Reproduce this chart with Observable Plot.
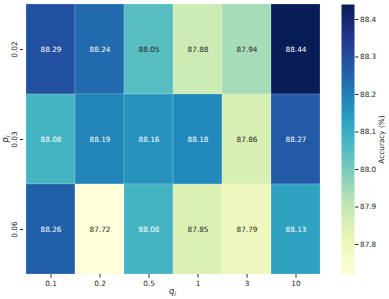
<!DOCTYPE html>
<html><head><meta charset="utf-8">
<script src="https://cdn.jsdelivr.net/npm/d3@7"></script>
<script src="https://cdn.jsdelivr.net/npm/@observablehq/plot@0.6"></script>
<style>
body{margin:0;background:#fff}
#c{position:relative;width:389px;height:299px;font-family:"DejaVu Sans"}
#c svg{position:absolute;top:0;overflow:visible}
</style>
</head><body><div id="c"></div>
<script>
const qLabels = ["0.1","0.2","0.5","1","3","10"];
const pLabels = ["0.02","0.03","0.06"];
const acc002 = [88.29,88.24,88.05,87.88,87.94,88.44];
const acc003 = [88.08,88.19,88.16,88.18,87.86,88.27];
const acc006 = [88.26,87.72,88.08,87.85,87.79,88.13];
const colorTicks = [87.8,87.9,88.0,88.1,88.2,88.3,88.4];

const rows = [acc002, acc003, acc006];
const cells = pLabels.flatMap((p,i)=> qLabels.map((q,j)=>({p,q,v:rows[i][j]})));
const domain = [d3.min(cells,d=>d.v), d3.max(cells,d=>d.v)];
const colorOpt = {type:"linear", scheme:"YlGnBu", domain};
const cscale = d3.scaleSequential(d3.interpolateYlGnBu).domain(domain);
function lum(c){const rgb=d3.rgb(c);const f=v=>{v/=255;return v<=0.03928?v/12.92:Math.pow((v+0.055)/1.055,2.4)};return 0.2126*f(rgb.r)+0.7152*f(rgb.g)+0.0722*f(rgb.b);}
const isLight = d => lum(cscale(d.v)) > 0.408;
const fs = 7.3;
const style = {fontFamily:"DejaVu Sans", fontSize:fs+"px", color:"#262626", background:"transparent", overflow:"visible"};

const main = Plot.plot({
  width:389, height:299, marginLeft:23, marginRight:67, marginTop:4, marginBottom:25,
  style,
  x:{domain:qLabels, padding:0, label:null},
  y:{domain:pLabels, padding:0, label:null},
  color: colorOpt,
  marks:[
    Plot.cell(cells,{x:"q",y:"p",fill:"v",inset:0,stroke:"#ffffff",strokeOpacity:0.3,strokeWidth:0.6}),
    Plot.text(cells.filter(isLight),{x:"q",y:"p",text:d=>d.v.toFixed(2),fill:"#262626",fontSize:fs}),
    Plot.text(cells.filter(d=>!isLight(d)),{x:"q",y:"p",text:d=>d.v.toFixed(2),fill:"#ffffff",fontSize:fs}),
    Plot.axisX({tickSize:3.5, tickPadding:2.5, label:null, stroke:"#262626"}),
    Plot.axisY({tickSize:3, tickPadding:4, tickRotate:-90, label:null, stroke:"#262626"})
  ]
});
main.style.left = "0px";
document.getElementById("c").appendChild(main);

const cb = Plot.plot({
  width:48, height:299, marginLeft:0, marginRight:35, marginTop:4, marginBottom:25,
  style,
  x:{domain:[0,1], axis:null},
  y:{domain, axis:null},
  color: colorOpt,
  marks:[
    Plot.raster({fill:(x,y)=>y, x1:0, x2:1, y1:domain[0], y2:domain[1], width:1, height:270, imageRendering:"auto"}),
    Plot.axisY(colorTicks,{anchor:"right", tickSize:3.5, tickPadding:2, tickFormat:d=>d.toFixed(1), label:null, stroke:"#262626"}),
    Plot.text(["Accuracy (%)"],{frameAnchor:"middle", dx:34, rotate:-90, fontSize:fs, fill:"#262626"})
  ]
});
cb.style.left = "341px";
document.getElementById("c").appendChild(cb);

// axis titles with math-style subscripts
const svg = d3.select(main);
function mathLabel(x, y, base, sub, rot){
  const t = svg.append("text").attr("transform",`translate(${x},${y}) rotate(${rot})`)
    .attr("text-anchor","middle").attr("font-family","DejaVu Sans").attr("font-size",fs+1).attr("fill","#262626");
  t.append("tspan").attr("font-style","italic").text(base);
  t.append("tspan").attr("font-style","italic").attr("font-size",fs-1).attr("dy",2).text(sub);
}
mathLabel(172.5, 293.5, "q", "i", 0);
mathLabel(7.5, 139, "p", "i", -90);
</script>
</body></html>
